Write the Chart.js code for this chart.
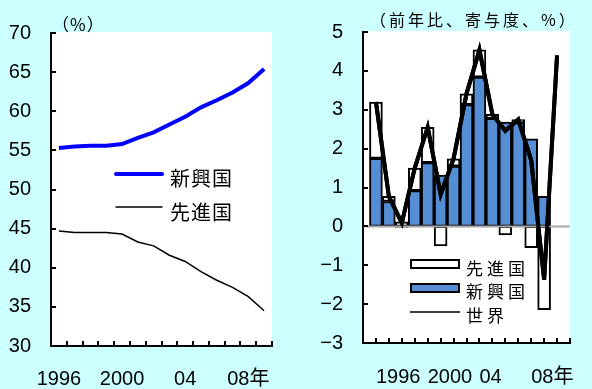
<!DOCTYPE html>
<html>
<head>
<meta charset="utf-8">
<script src="https://cdn.jsdelivr.net/npm/chart.js@4.4.1/dist/chart.umd.min.js"></script>
<style>
  html, body { margin: 0; padding: 0; width: 592px; height: 389px; overflow: hidden; background: #ccffff; }
  canvas { position: absolute; top: 0; }
  #shareChart { left: 0; }
  #growthChart { left: 300px; }
</style>
</head>
<body>
<canvas id="shareChart" width="300" height="389"></canvas>
<canvas id="growthChart" width="292" height="389"></canvas>
<script>
// ---- Left panel: share of world GDP (%) ----
const shareYears = ['1996','1997','1998','1999','2000','2001','2002','2003','2004','2005','2006','2007','2008','2009'];
const shareTickLabels = ['1996','','','','2000','','','','04','','','','08年',''];
const shareEmerging = [55.3, 55.5, 55.6, 55.6, 55.8, 56.6, 57.3, 58.3, 59.3, 60.5, 61.4, 62.4, 63.6, 65.4];
const shareAdvanced = [44.7, 44.5, 44.5, 44.5, 44.3, 43.3, 42.8, 41.6, 40.8, 39.5, 38.4, 37.5, 36.3, 34.5];

// ---- Right panel: world growth and contributions (% y/y) ----
const growthYears = ['1996','1997','1998','1999','2000','2001','2002','2003','2004','2005','2006','2007','2008','2009','2010'];
const growthTickLabels = {'1996': '1996', '2000': '2000', '2004': '04', '2008': '08年'};
const contribEmerging = [1.75, 0.64, -0.03, 0.92, 1.64, 1.32, 1.55, 3.13, 3.84, 2.78, 2.68, 2.67, 2.25, 0.77];
const contribAdvanced = [1.45, 0.13, 0.12, 0.58, 0.91, -0.50, 0.19, 0.28, 0.70, 0.10, -0.22, 0.08, -0.55, -2.14];
const worldGrowth = [3.20, 0.77, 0.09, 1.50, 2.55, 0.82, 1.74, 3.41, 4.54, 2.88, 2.46, 2.75, 1.70, -1.37, 4.40];

const NUM_FONT = '"Liberation Sans", "Noto Sans CJK JP", sans-serif';
const JP_FONT = '"Noto Sans CJK JP", sans-serif';
const EMERGING_BLUE = '#558ed5';

function whitePlot(chart) {
  const { ctx, chartArea: a } = chart;
  ctx.save();
  ctx.fillStyle = '#ffffff';
  ctx.fillRect(a.left, a.top - 1, a.right - a.left, a.bottom - a.top + 1);
  ctx.restore();
}

function drawText(ctx, text, x, y, size, spacing) {
  ctx.font = size + 'px ' + JP_FONT;
  ctx.letterSpacing = (spacing || 0) + 'px';
  ctx.fillStyle = '#000';
  ctx.textAlign = 'left';
  ctx.textBaseline = 'middle';
  ctx.fillText(text, x, y);
  ctx.letterSpacing = '0px';
}

const shareDecor = {
  id: 'shareDecor',
  beforeDraw: whitePlot,
  afterDraw(chart) {
    const { ctx, chartArea: a, scales: { x, y } } = chart;
    ctx.save();
    ctx.strokeStyle = '#000';
    ctx.lineWidth = 2;
    ctx.beginPath();
    for (let v = 35; v <= 70; v += 5) {
      const py = Math.round(y.getPixelForValue(v));
      ctx.moveTo(a.left, py); ctx.lineTo(a.left + 5, py);
    }
    const step = x.getPixelForValue(1) - x.getPixelForValue(0);
    for (let i = 0; i <= shareYears.length; i++) {
      const px = Math.round(x.getPixelForValue(0) - step / 2 + i * step);
      ctx.moveTo(px, a.bottom); ctx.lineTo(px, a.bottom - 5);
    }
    ctx.stroke();

    // unit
    drawText(ctx, '（%）', 52, 25, 17, 1);

    // legend
    ctx.lineCap = 'round';
    ctx.strokeStyle = '#0000ff'; ctx.lineWidth = 4;
    ctx.beginPath(); ctx.moveTo(116, 174); ctx.lineTo(162, 174); ctx.stroke();
    ctx.strokeStyle = '#000'; ctx.lineWidth = 1.5;
    ctx.beginPath(); ctx.moveTo(116, 207); ctx.lineTo(162, 207); ctx.stroke();
    drawText(ctx, '新興国', 170, 178, 20, 1);
    drawText(ctx, '先進国', 170, 212, 20, 1);
    ctx.restore();
  }
};

new Chart(document.getElementById('shareChart'), {
  type: 'line',
  data: {
    labels: shareYears,
    datasets: [
      { label: '新興国', data: shareEmerging, borderColor: '#0000ff', borderWidth: 4, pointRadius: 0, tension: 0 },
      { label: '先進国', data: shareAdvanced, borderColor: '#000000', borderWidth: 1.5, pointRadius: 0, tension: 0 }
    ]
  },
  options: {
    responsive: false,
    animation: false,
    layout: { padding: { top: 33, right: 28, left: 0, bottom: 0 } },
    plugins: { legend: { display: false }, tooltip: { enabled: false } },
    scales: {
      x: {
        type: 'category',
        offset: true,
        grid: { display: false, drawTicks: false },
        border: { display: true, color: '#000', width: 2 },
        ticks: {
          autoSkip: false, maxRotation: 0, padding: 21, color: '#000',
          font: { family: NUM_FONT, size: 20 },
          callback: (v, i) => shareTickLabels[i]
        },
        afterFit: s => { s.height = 43; }
      },
      y: {
        min: 30, max: 70,
        grid: { display: false, drawTicks: false },
        border: { display: true, color: '#000', width: 2 },
        ticks: { stepSize: 5, padding: 20, color: '#000', font: { family: NUM_FONT, size: 20 } },
        afterFit: s => { s.width = 51; }
      }
    }
  },
  plugins: [shareDecor]
});

// category axis with one empty slot on each side of the data years
const growthCategories = [''].concat(growthYears, ['']);

const growthDecor = {
  id: 'growthDecor',
  beforeDraw: whitePlot,
  afterDatasetsDraw(chart) {
    const { ctx, chartArea: a, scales: { y } } = chart;
    const y0 = y.getPixelForValue(0);
    ctx.save();
    ctx.strokeStyle = '#a6a6a6';
    ctx.lineWidth = 2;
    ctx.beginPath(); ctx.moveTo(a.left, y0); ctx.lineTo(a.right, y0); ctx.stroke();
    ctx.restore();
    // world line on top of the zero line
    chart.getDatasetMeta(0).controller.draw();
  },
  afterDraw(chart) {
    const { ctx, chartArea: a, scales: { x, y } } = chart;
    ctx.save();
    ctx.strokeStyle = '#000';
    ctx.lineWidth = 2;
    ctx.beginPath();
    for (let v = -2; v <= 5; v++) {
      const py = Math.round(y.getPixelForValue(v));
      ctx.moveTo(a.left, py); ctx.lineTo(a.left + 5, py);
    }
    for (let i = 1; i < growthCategories.length; i++) {
      const px = Math.round(x.getPixelForValue(i));
      ctx.moveTo(px, a.bottom); ctx.lineTo(px, a.bottom - 5);
    }
    ctx.stroke();

    // unit
    drawText(ctx, '（前年比、寄与度、%）', 70, 20, 16, 3);

    // legend
    ctx.lineWidth = 2;
    ctx.fillStyle = '#fff';
    ctx.fillRect(111, 260, 48, 8);
    ctx.strokeRect(111, 260, 48, 8);
    ctx.fillStyle = EMERGING_BLUE;
    ctx.fillRect(111, 284, 48, 8);
    ctx.strokeRect(111, 284, 48, 8);
    ctx.lineWidth = 1.5;
    ctx.beginPath(); ctx.moveTo(110, 312); ctx.lineTo(160, 312); ctx.stroke();
    drawText(ctx, '先進国', 166, 269, 17, 4);
    drawText(ctx, '新興国', 166, 292, 17, 4);
    drawText(ctx, '世界', 166, 316, 17, 4);
    ctx.restore();
  }
};

const pairs = (vals) => vals.map((v, i) => ({ x: growthYears[i], y: v }));

new Chart(document.getElementById('growthChart'), {
  type: 'bar',
  data: {
    labels: growthCategories,
    datasets: [
      { type: 'line', label: '世界', data: pairs(worldGrowth), stack: 'world',
        borderColor: '#000', borderWidth: 4, pointRadius: 0, tension: 0, order: 0 },
      { label: '新興国', data: pairs(contribEmerging), stack: 'gdp', order: 1,
        backgroundColor: EMERGING_BLUE, borderColor: '#000', borderWidth: 2, borderSkipped: false,
        barPercentage: 1, categoryPercentage: 1 },
      { label: '先進国', data: pairs(contribAdvanced), stack: 'gdp', order: 1,
        backgroundColor: '#ffffff', borderColor: '#000', borderWidth: 2, borderSkipped: false,
        barPercentage: 1, categoryPercentage: 1 }
    ]
  },
  options: {
    responsive: false,
    animation: false,
    layout: { padding: { top: 31, right: 0, left: 0, bottom: 0 } },
    plugins: { legend: { display: false }, tooltip: { enabled: false } },
    scales: {
      x: {
        type: 'category',
        offset: false,
        stacked: true,
        grid: { display: false, drawTicks: false, offset: false },
        border: { display: true, color: '#000', width: 2 },
        ticks: {
          autoSkip: false, maxRotation: 0, padding: 22, color: '#000', align: 'start',
          font: { family: NUM_FONT, size: 20 },
          callback: (v, i) => growthTickLabels[growthCategories[i]] || ''
        },
        afterFit: s => { s.height = 46; }
      },
      y: {
        min: -3, max: 5,
        stacked: true,
        grid: { display: false, drawTicks: false },
        border: { display: true, color: '#000', width: 2 },
        ticks: {
          stepSize: 1, padding: 20, color: '#000', font: { family: NUM_FONT, size: 20 },
          callback: v => (v < 0 ? '\u2212' + Math.abs(v) : String(v))
        },
        afterFit: s => { s.width = 63; }
      }
    }
  },
  plugins: [growthDecor]
});
</script>
</body>
</html>
